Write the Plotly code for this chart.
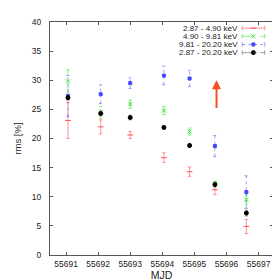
import plotly.graph_objects as go

mjd = [55691.06, 55692.08, 55693.0, 55694.05, 55694.85, 55695.64, 55696.62]

red_y = [23.1, 22.0, 20.6, 16.7, 14.3, 11.2, 4.9]
red_e = [3.1, 1.2, 0.6, 0.85, 0.8, 0.8, 1.2]
green_y = [29.8, 24.5, 25.9, 24.8, 21.2, 12.2, 9.5]
green_e = [2.0, 1.0, 0.7, 0.7, 0.6, 0.5, 0.8]
blue_y = [27.3, 27.6, 29.5, 30.8, 30.3, 18.7, 10.8]
blue_e = [3.5, 1.6, 0.9, 1.6, 1.4, 1.8, 2.8]
black_y = [27.0, 24.3, 23.6, 21.9, 18.8, 12.1, 7.2]
black_e = [0.4, 0.4, 0.4, 0.3, 0.3, 0.4, 0.5]

labels = ["2.87 - 4.90 keV", "4.90 - 9.81 keV", "9.81 - 20.20 keV", "2.87 - 20.20 keV"]

arrow_x = 55695.69
arrow_from = 25.0
arrow_to = 30.0

series = [
    (red_y, red_e, "#ff5050", "rgba(255,80,80,0.6)", "solid", 4, "line-ew-open"),
    (green_y, green_e, "#33dd33", "rgba(60,230,60,0.6)", "dash", 4, "x-thin-open"),
    (blue_y, blue_e, "#4444ff", "rgba(90,90,255,0.6)", "dot", 3, "square"),
    (black_y, black_e, "#000000", "rgba(100,100,100,0.6)", "dashdot", 4, "circle"),
]

fig = go.Figure()
cap = 0.055
for ys, es, col, ecol, dash, size, lsym in series:
    bx, by = [], []
    for x, v, e in zip(mjd, ys, es):
        bx += [x, x, None, x - cap, x + cap, None, x - cap, x + cap, None]
        by += [v - e, v + e, None, v - e, v - e, None, v + e, v + e, None]
    fig.add_trace(go.Scatter(x=bx, y=by, mode="lines",
                             line=dict(color=ecol, width=1, dash=dash),
                             showlegend=False, hoverinfo="skip"))
for ys, es, col, ecol, dash, size, lsym in series:
    fig.add_trace(go.Scatter(x=mjd, y=ys, mode="markers",
                             marker=dict(symbol=lsym, size=size, color=col,
                                         line=dict(color=col, width=1)),
                             showlegend=False))

# manual legend (gnuplot style: text left, sample right)
rows = [0.9736, 0.9386, 0.9037, 0.8687]
x0, x1, xm = 0.862, 0.963, 0.912
for (ys, es, col, ecol, dash, size, lsym), lab, ry in zip(series, labels, rows):
    fig.add_annotation(xref="paper", yref="paper", x=0.849, y=ry, text=lab,
                       showarrow=False, xanchor="right", yanchor="middle", borderpad=0,
                       font=dict(size=8, color="#222", family="Liberation Sans"))
    fig.add_shape(type="line", xref="paper", yref="paper", x0=x0, x1=x1, y0=ry, y1=ry,
                  line=dict(color=ecol, width=1, dash=dash))
    for xx in (x0, x1):
        fig.add_shape(type="line", xref="paper", yref="paper", x0=xx, x1=xx,
                      y0=ry - 0.01, y1=ry + 0.01, line=dict(color=ecol, width=1))
    fig.add_trace(go.Scatter(x=[xm], y=[ry], xaxis="x2", yaxis="y2", mode="markers",
                             marker=dict(symbol=lsym, size=size, color=col,
                                         line=dict(color=col, width=1)),
                             showlegend=False, hoverinfo="skip"))

fig.add_annotation(x=arrow_x, y=arrow_to, ax=arrow_x, ay=arrow_from,
                   xref="x", yref="y", axref="x", ayref="y",
                   showarrow=True, arrowhead=2, arrowsize=0.9, arrowwidth=2,
                   arrowcolor="#f4511e", text="")

tickfont = dict(size=8.5, color="#222", family="Liberation Sans")
fig.update_layout(
    width=280, height=280,
    margin=dict(l=34, r=15, t=9, b=25),
    paper_bgcolor="white", plot_bgcolor="white",
    showlegend=False,
    xaxis=dict(range=[55690.5, 55697.45], tickvals=[55691, 55692, 55693, 55694, 55695, 55696, 55697],
               ticktext=["55691", "55692", "55693", "55694", "55695", "55696", "55697"],
               ticks="inside", ticklen=3, tickcolor="#555", showline=True, mirror="ticks",
               linecolor="#555", linewidth=1, showgrid=False, zeroline=False,
               tickfont=tickfont, ticklabelstandoff=1,
               title=dict(text="MJD", font=dict(size=10.5, color="#222", family="Liberation Sans"), standoff=2)),
    yaxis=dict(range=[0, 40], dtick=5, ticks="inside", ticklen=3, tickcolor="#555",
               showline=True, mirror="ticks", linecolor="#555", linewidth=1,
               showgrid=False, zeroline=False, tickfont=tickfont, ticklabelstandoff=6,
               title=dict(text="rms [%]", font=dict(size=9.5, color="#222", family="Liberation Sans"), standoff=8)),
    xaxis2=dict(range=[0, 1], overlaying="x", visible=False),
    yaxis2=dict(range=[0, 1], overlaying="y", visible=False),
)

fig.write_html("out.html")
